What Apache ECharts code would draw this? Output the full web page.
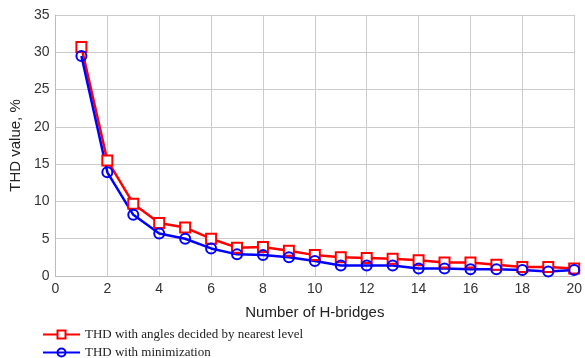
<!DOCTYPE html>
<html>
<head>
<meta charset="utf-8">
<script src="https://cdn.jsdelivr.net/npm/echarts@6/dist/echarts.min.js"></script>
<style>
  html, body { margin: 0; padding: 0; background: #fff; }
  #chart { width: 585px; height: 358px; }
</style>
</head>
<body>
<div id="chart"></div>
<script>
 // data
 var bridges = [1, 2, 3, 4, 5, 6, 7, 8, 9, 10, 11, 12, 13, 14, 15, 16, 17, 18, 19, 20];
 var thdNearest = [30.7, 15.5, 9.7, 7.1, 6.5, 5.0, 3.8, 3.9, 3.4, 2.8, 2.5, 2.4, 2.3, 2.1, 1.8, 1.8, 1.5, 1.2, 1.2, 1.0];
 var thdMin = [29.5, 13.9, 8.2, 5.7, 5.0, 3.7, 2.9, 2.8, 2.5, 2.0, 1.4, 1.4, 1.4, 1.0, 1.0, 0.9, 0.9, 0.8, 0.6, 0.8];
 var nameNearest = 'THD with angles decided by nearest level';
 var nameMin = 'THD with minimization';

 function pairs(xs, ys) {
     return xs.map(function (x, i) { return [x, ys[i]]; });
 }

 // one legend per row, stacked like the original
 function legendRow(name, top) {
     return {
         left: 37,
         top: top,
         itemWidth: 37,
         itemHeight: 10,
         itemGap: 0,
         textStyle: { fontFamily: 'Liberation Serif', fontSize: 13, color: '#222', padding: [0, 0, 0, 0] },
         data: [name]
     };
 }

 var myChart = echarts.init(document.getElementById('chart'));
 var option = {
     animation: false,
     grid: { left: 52, right: 8, top: 15, bottom: 82 },
     legend: [legendRow(nameNearest, 323), legendRow(nameMin, 341)],
     xAxis: {
         type: 'value',
         min: 0, max: 20, interval: 2,
         name: 'Number of H-bridges',
         nameLocation: 'middle',
         nameGap: 29,
         nameTextStyle: { fontFamily: 'Liberation Sans', fontSize: 15, color: '#222' },
         axisLine: { show: true, lineStyle: { color: '#bbb' } },
         axisTick: { show: false },
         axisLabel: { fontFamily: 'Liberation Sans', fontSize: 14, color: '#333', margin: 6 },
         splitLine: { show: true, lineStyle: { color: '#ccc', width: 1 } }
     },
     yAxis: {
         type: 'value',
         min: 0, max: 35, interval: 5,
         name: 'THD value, %',
         nameLocation: 'middle',
         nameGap: 32,
         nameTextStyle: { fontFamily: 'Liberation Sans', fontSize: 15, color: '#222' },
         axisLine: { show: true, lineStyle: { color: '#bbb' } },
         axisTick: { show: false },
         axisLabel: { fontFamily: 'Liberation Sans', fontSize: 14, color: '#333', margin: 6 },
         splitLine: { show: true, lineStyle: { color: '#ccc', width: 1 } }
     },
     series: [{
         name: nameNearest,
         type: 'line',
         data: pairs(bridges, thdNearest),
         symbol: 'rect',
         symbolSize: 10,
         lineStyle: { color: '#ff0000', width: 2.5 },
         itemStyle: { color: '#fff', borderColor: '#ff0000', borderWidth: 2 }
     }, {
         name: nameMin,
         type: 'line',
         data: pairs(bridges, thdMin),
         symbol: 'circle',
         symbolSize: 10,
         lineStyle: { color: '#0000ff', width: 2.5 },
         itemStyle: { color: 'rgba(255,255,255,0)', borderColor: '#0000ff', borderWidth: 2 }
     }]
 };
 myChart.setOption(option);
</script>
</body>
</html>
